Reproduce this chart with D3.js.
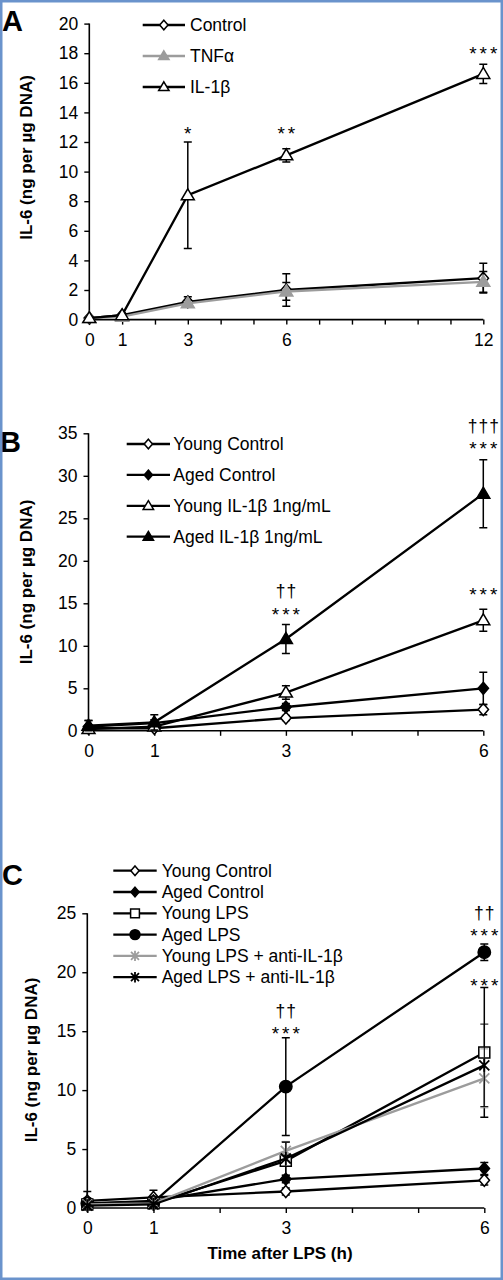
<!DOCTYPE html>
<html><head><meta charset="utf-8">
<script src="https://cdn.jsdelivr.net/npm/d3@7"></script>
<style>body{margin:0;background:#fff} text{font-family:Arial,"Liberation Sans",sans-serif}</style>
</head><body><svg id="chart" width="503" height="1280"></svg>
<script>
// ---------- Panel A data ----------
const timesA = [0, 1, 3, 6, 12];
const xLabelsA = [0, 1, 3, 6, 12];
const yTicksA = [0, 2, 4, 6, 8, 10, 12, 14, 16, 18, 20];
const controlA = [0.1, 0.3, 1.2, 2.0, 2.8];
const controlErrA = [0.05, 0.1, 0.35, 1.1, 1.0];
const tnfA = [0.1, 0.2, 1.1, 1.9, 2.55];
const tnfErrA = [0.05, 0.1, 0.2, 0.6, 0.7];
const il1bA = [0.1, 0.3, 8.4, 11.1, 16.6];
const il1bErrA = [0.05, 0.1, 3.6, 0.45, 0.65];
const namesA = ["Control", "TNFα", "IL-1β"];
const annotA = [{t: 3, v: 12.3, s: "*"}, {t: 6, v: 12.3, s: "**"}, {t: 12, v: 17.7, s: "***"}];

// ---------- Panel B data ----------
const timesB = [0, 1, 3, 6];
const xLabelsB = [0, 1, 3, 6];
const yTicksB = [0, 5, 10, 15, 20, 25, 30, 35];
const youngCtrlB = [0.3, 0.3, 1.5, 2.5];
const youngCtrlErrB = [0.2, 0.2, 0.3, 0.6];
const agedCtrlB = [0.5, 0.9, 2.8, 5.0];
const agedCtrlErrB = [0.7, 0.4, 0.4, 1.9];
const youngIL1bB = [0.2, 0.5, 4.5, 13.0];
const youngIL1bErrB = [0.1, 0.2, 0.8, 1.3];
const agedIL1bB = [0.6, 1.0, 10.8, 27.9];
const agedIL1bErrB = [0.6, 0.9, 1.7, 4.0];
const namesB = ["Young Control", "Aged Control", "Young IL-1β 1ng/mL", "Aged IL-1β 1ng/mL"];
const annotB = [{t: 3, v: 15.7, s: "††"}, {t: 3, v: 13.1, s: "***"},
                {t: 6, v: 35.1, s: "†††"}, {t: 6, v: 32.7, s: "***"}, {t: 6, v: 15.5, s: "***"}];

// ---------- Panel C data ----------
const timesC = [0, 1, 3, 6];
const xLabelsC = [0, 1, 3, 6];
const yTicksC = [0, 5, 10, 15, 20, 25];
const youngCtrlC = [0.6, 0.9, 1.4, 2.35];
const youngCtrlErrC = [0.8, 0.6, 0.3, 0.4];
const agedCtrlC = [0.4, 0.6, 2.45, 3.35];
const agedCtrlErrC = [0.3, 0.3, 0.3, 0.5];
const youngLpsC = [0.3, 0.4, 4.0, 13.2];
const youngLpsErrC = [0.2, 0.2, 1.6, 5.5];
const agedLpsC = [0.4, 0.5, 10.3, 21.7];
const agedLpsErrC = [0.3, 0.3, 4.15, 0.7];
const youngAntiC = [0.3, 0.4, 4.85, 11.0];
const youngAntiErrC = [0.2, 0.2, 0.8, 2.5];
const agedAntiC = [0.2, 0.3, 4.2, 12.1];
const agedAntiErrC = [0.1, 0.2, 1.4, 3.5];
const namesC = ["Young Control", "Aged Control", "Young LPS", "Aged LPS", "Young LPS + anti-IL-1β", "Aged LPS + anti-IL-1β"];
const annotC = [{t: 3, v: 16.2, s: "††"}, {t: 3, v: 14.4, s: "***"},
                {t: 6, v: 24.5, s: "††"}, {t: 6, v: 22.75, s: "***"}, {t: 6, v: 18.5, s: "***"}];

const GRAY = "#9c9c9c";
const svg = d3.select("#chart");
svg.append("rect").attr("width", 503).attr("height", 1280).attr("fill", "#fff");

function markerPath(type) {
  switch (type) {
    case "diamond": return "M0,-6L5.2,0L0,6L-5.2,0Z";
    case "triangle": return "M0,-6.5L6.5,4.5L-6.5,4.5Z";
    case "square": return "M-5.5,-5.5H5.5V5.5H-5.5Z";
    case "asterisk": return "M-5,-5L5,5M-5,5L5,-5M0,-6.5L0,6.5";
  }
}
function drawMarker(g, s, x, y, k) {
  if (s.marker === "circle") {
    g.append("circle").attr("cx", x).attr("cy", y).attr("r", 6.2 * k)
      .attr("fill", s.fill).attr("stroke", s.color).attr("stroke-width", 1.5);
  } else {
    g.append("path").attr("d", markerPath(s.marker))
      .attr("transform", `translate(${x},${y}) scale(${k})`)
      .attr("fill", s.marker === "asterisk" ? "none" : s.fill)
      .attr("stroke", s.color).attr("stroke-width", s.marker === "asterisk" ? 1.8 / k : 1.5 / k);
  }
}

function panel(cfg) {
  const g = svg.append("g");
  const x = d3.scaleLinear().domain([0, cfg.xMax]).range(cfg.xRange);
  const y = d3.scaleLinear().domain([0, cfg.yMax]).range(cfg.yRange);

  const ya = g.append("g").attr("transform", `translate(${cfg.xRange[0]},0)`)
    .call(d3.axisLeft(y).tickValues(cfg.yTicks).tickSize(5).tickPadding(6).tickFormat(d3.format("d")));
  const xa = g.append("g").attr("transform", `translate(0,${cfg.yRange[0]})`)
    .call(d3.axisBottom(x).tickValues(d3.range(0, cfg.xMax + 1)).tickSize(5).tickPadding(cfg.xPad)
      .tickFormat(d => cfg.xLabels.includes(d) ? d : ""));
  [ya, xa].forEach(a => {
    a.select(".domain").attr("stroke", "#000").attr("stroke-width", 1.6)
      .attr("d", a === ya ? `M0,${cfg.yRange[0]}V${cfg.yRange[1]}` : `M${cfg.xRange[0]},0H${cfg.xRange[1]}`);
    a.selectAll(".tick line").attr("stroke", "#000").attr("stroke-width", 1.4);
    a.selectAll("text").attr("font-size", 17.5).attr("fill", "#000")
      .attr("font-family", "Arial, 'Liberation Sans', sans-serif");
  });

  const line = d3.line().x(d => x(d.t)).y(d => y(d.v));
  cfg.series.forEach(s => {
    const pts = cfg.times.map((t, i) => ({t, v: s.values[i], e: s.errors[i]}));
    const sg = g.append("g");
    pts.forEach(p => {
      const cx = x(p.t), top = y(p.v + p.e), bot = y(Math.max(0, p.v - p.e));
      sg.append("path").attr("d", `M${cx},${top}V${bot}M${cx - 4},${top}H${cx + 4}M${cx - 4},${bot}H${cx + 4}`)
        .attr("stroke", s.errColor || "#000").attr("stroke-width", s.errWidth || 1.5).attr("fill", "none");
    });
    sg.append("path").datum(pts).attr("d", line).attr("fill", "none")
      .attr("stroke", s.color).attr("stroke-width", 2.3);
    pts.forEach(p => drawMarker(sg, s, x(p.t), y(p.v), 1));
  });

  cfg.annot.forEach(a => {
    const star = a.s.includes("*");
    g.append("text").attr("x", x(a.t) + (star ? 1.5 : 0.5)).attr("y", y(a.v) + (star ? 2 : 0))
      .attr("text-anchor", "middle").attr("font-size", star ? 19 : 17.5)
      .attr("letter-spacing", star ? 3 : 1).text(a.s);
  });

  cfg.series.forEach((s, i) => {
    const ly = cfg.legend.y0 + i * cfg.legend.dy;
    const lg = g.append("g");
    lg.append("line").attr("x1", cfg.legend.x1).attr("x2", cfg.legend.x2).attr("y1", ly).attr("y2", ly)
      .attr("stroke", s.color).attr("stroke-width", 2.3);
    drawMarker(lg, s, (cfg.legend.x1 + cfg.legend.x2) / 2, ly, 0.8);
    lg.append("text").attr("x", cfg.legend.tx).attr("y", ly).attr("dy", "0.35em")
      .attr("font-size", 17.5).text(s.name);
  });

  g.append("text").attr("transform", `translate(${cfg.yTitle[0]},${cfg.yTitle[1]}) rotate(-90)`)
    .attr("text-anchor", "middle").attr("font-size", 17).attr("font-weight", "bold")
    .text("IL-6 (ng per µg DNA)");
  g.append("text").attr("x", cfg.letter[0]).attr("y", cfg.letter[1]).attr("font-size", 29)
    .attr("font-weight", "bold").text(cfg.letterText);
  return {g, x, y};
}

panel({
  times: timesA, xMax: 12, yMax: 20, xRange: [89.3, 483.3], yRange: [319.6, 23.6],
  yTicks: yTicksA, xLabels: xLabelsA, xPad: 9,
  series: [
    {name: namesA[0], values: controlA, errors: controlErrA, marker: "diamond", color: "#000", fill: "#fff"},
    {name: namesA[1], values: tnfA, errors: tnfErrA, marker: "triangle", color: GRAY, fill: GRAY},
    {name: namesA[2], values: il1bA, errors: il1bErrA, marker: "triangle", color: "#000", fill: "#fff"}
  ],
  annot: annotA,
  legend: {y0: 25, dy: 31, x1: 142.7, x2: 185, tx: 190},
  yTitle: [32, 157.5], letter: [2, 31], letterText: "A"
});

panel({
  times: timesB, xMax: 6, yMax: 35, xRange: [88.5, 483.3], yRange: [730.8, 433.3],
  yTicks: yTicksB, xLabels: xLabelsB, xPad: 9,
  series: [
    {name: namesB[0], values: youngCtrlB, errors: youngCtrlErrB, marker: "diamond", color: "#000", fill: "#fff"},
    {name: namesB[1], values: agedCtrlB, errors: agedCtrlErrB, marker: "diamond", color: "#000", fill: "#000"},
    {name: namesB[2], values: youngIL1bB, errors: youngIL1bErrB, marker: "triangle", color: "#000", fill: "#fff"},
    {name: namesB[3], values: agedIL1bB, errors: agedIL1bErrB, marker: "triangle", color: "#000", fill: "#000"}
  ],
  annot: annotB,
  legend: {y0: 444, dy: 30.9, x1: 126.7, x2: 170, tx: 173.3},
  yTitle: [32, 582], letter: [0, 452], letterText: "B"
});

panel({
  times: timesC, xMax: 6, yMax: 25, xRange: [87.3, 484.3], yRange: [1208, 913.3],
  yTicks: yTicksC, xLabels: xLabelsC, xPad: 9,
  series: [
    {name: namesC[0], values: youngCtrlC, errors: youngCtrlErrC, marker: "diamond", color: "#000", fill: "#fff"},
    {name: namesC[1], values: agedCtrlC, errors: agedCtrlErrC, marker: "diamond", color: "#000", fill: "#000"},
    {name: namesC[2], values: youngLpsC, errors: youngLpsErrC, marker: "square", color: "#000", fill: "#fff"},
    {name: namesC[3], values: agedLpsC, errors: agedLpsErrC, marker: "circle", color: "#000", fill: "#000"},
    {name: namesC[4], values: youngAntiC, errors: youngAntiErrC, marker: "asterisk", color: GRAY, fill: GRAY, errColor: GRAY, errWidth: 1},
    {name: namesC[5], values: agedAntiC, errors: agedAntiErrC, marker: "asterisk", color: "#000", fill: "#000", errWidth: 1}
  ],
  annot: annotC,
  legend: {y0: 870.7, dy: 21.3, x1: 113.3, x2: 156.7, tx: 161.7},
  yTitle: [37, 1060], letter: [2, 885], letterText: "C"
});

svg.append("text").attr("x", 280).attr("y", 1258.5).attr("text-anchor", "middle")
  .attr("font-size", 17).attr("font-weight", "bold").text("Time after LPS (h)");

svg.append("rect").attr("x", 1.25).attr("y", 1.25).attr("width", 500.5).attr("height", 1277.5)
  .attr("fill", "none").attr("stroke", "#6a93cc").attr("stroke-width", 2.5);
</script></body></html>
